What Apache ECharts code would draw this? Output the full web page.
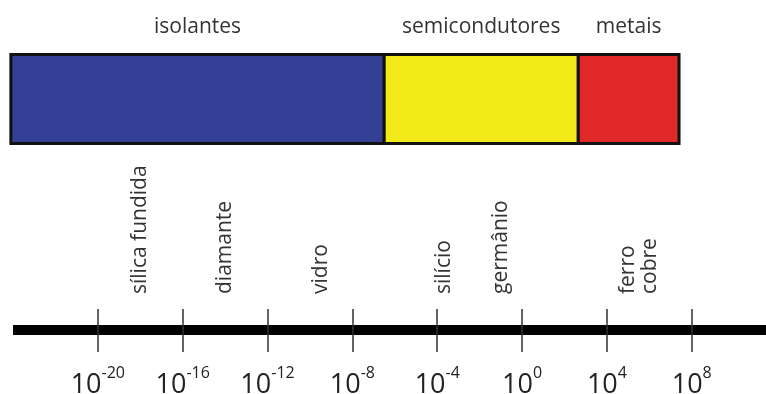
<!DOCTYPE html>
<html>
<head>
<meta charset="utf-8">
<script src="https://cdn.jsdelivr.net/npm/echarts@6/dist/echarts.min.js"></script>
<style>
  html, body { margin: 0; padding: 0; background: #fff; }
  #chart { width: 766px; height: 394px; }
</style>
</head>
<body>
<div id="chart"></div>
<script>
// Conductivity classes on a log10 scale (exponent of 10)
const classNames = ['isolantes', 'semicondutores', 'metais'];
const classStart = [-24.1, -6.5, 2.65];
const classEnd = [-6.5, 2.65, 7.4];

// Materials placed at their approximate log10 conductivity
const materialNames = ['sílica fundida', 'diamante', 'vidro', 'silício', 'germânio', 'ferro\ncobre'];
const materialValues = [-18, -14, -9.5, -3.7, -1, 5.5];

// Tick marks / labels (exponents)
const tickExponents = [-20, -16, -12, -8, -4, 0, 4, 8];

const classColors = ['#343F96', '#F2EA18', '#E02828'];
const FONT = '"Open Sans", "Noto Sans", sans-serif';

const axisMin = -24, axisMax = 11.5;
const gridBox = { left: 13, right: 0, outerBoundsMode: 'none' };

const chart = echarts.init(document.getElementById('chart'), null, { renderer: 'canvas' });

const option = {
  backgroundColor: '#ffffff',
  animation: false,
  grid: [
    Object.assign({ top: 54.5, height: 89 }, gridBox),
    Object.assign({ top: 160, bottom: 64 }, gridBox),
    Object.assign({ top: 160, bottom: 64 }, gridBox)
  ],
  xAxis: [
    { gridIndex: 0, type: 'value', min: axisMin, max: axisMax, show: false },
    {
      gridIndex: 1, type: 'value', min: axisMin, max: axisMax, position: 'bottom',
      axisLine: { show: true, lineStyle: { color: '#000', width: 10, cap: 'butt' } },
      axisTick: { show: true, inside: true, length: 21, customValues: tickExponents,
                  lineStyle: { color: '#333', width: 1.5 } },
      splitLine: { show: false },
      axisLabel: {
        show: true, margin: 35, customValues: tickExponents,
        formatter: v => '{b|10}{s|' + v + '}',
        rich: {
          b: { fontFamily: FONT, fontSize: 27, color: '#222', lineHeight: 41 },
          s: { fontFamily: FONT, fontSize: 16, color: '#222', lineHeight: 16, verticalAlign: 'top' }
        }
      }
    },
    {
      gridIndex: 2, type: 'value', min: axisMin, max: axisMax, position: 'bottom',
      axisLine: { show: false },
      axisTick: { show: true, inside: false, length: 22, customValues: tickExponents,
                  lineStyle: { color: '#333', width: 1.5 } },
      axisLabel: { show: false },
      splitLine: { show: false }
    }
  ],
  yAxis: [
    { gridIndex: 0, type: 'value', min: 0, max: 1, show: false },
    { gridIndex: 1, type: 'value', min: 0, max: 1, show: false },
    { gridIndex: 2, type: 'value', min: 0, max: 1, show: false }
  ],
  series: [
    {
      type: 'custom',
      xAxisIndex: 0, yAxisIndex: 0,
      data: classStart.map((s, i) => [s, classEnd[i]]),
      renderItem: (params, api) => {
        const i = params.dataIndex;
        const tl = api.coord([api.value(0), 1]);
        const br = api.coord([api.value(1), 0]);
        return {
          type: 'group',
          children: [
            {
              type: 'rect',
              shape: { x: tl[0], y: tl[1], width: br[0] - tl[0], height: br[1] - tl[1] },
              style: { fill: classColors[i], stroke: '#111', lineWidth: 3 }
            },
            {
              type: 'text',
              x: (tl[0] + br[0]) / 2, y: tl[1] - 27.5,
              style: { text: classNames[i], font: '21px ' + FONT, fill: '#333',
                       align: 'center', verticalAlign: 'middle' }
            }
          ]
        };
      }
    },
    {
      type: 'custom',
      xAxisIndex: 1, yAxisIndex: 1,
      data: materialValues.map(v => [v, 0]),
      renderItem: (params, api) => {
        const p = api.coord([api.value(0), 0]);
        return {
          type: 'text',
          x: p[0], y: p[1] - 36,
          rotation: Math.PI / 2,
          style: { text: materialNames[params.dataIndex], font: '21px ' + FONT, fill: '#333',
                   align: 'left', verticalAlign: 'middle', lineHeight: 22 }
        };
      }
    }
  ]
};

chart.setOption(option);
</script>
</body>
</html>
